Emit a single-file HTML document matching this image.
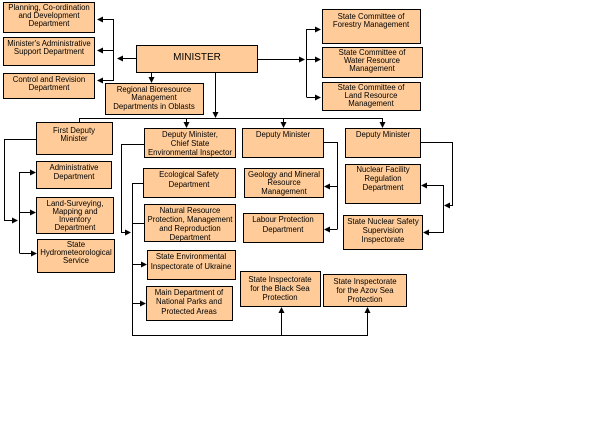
<!DOCTYPE html>
<html><head><style>body{margin:0;background:#fff}svg{display:block}text{font-family:"Liberation Sans",Arial,sans-serif;font-size:7.8px;fill:#000}</style></head><body>
<svg width="605" height="447" viewBox="0 0 605 447" xmlns="http://www.w3.org/2000/svg">
<defs><marker id="a" markerWidth="6" markerHeight="6" refX="5" refY="3" orient="auto" markerUnits="userSpaceOnUse"><path d="M0,0L6,3L0,6z" fill="#000"/></marker></defs>
<g fill="#FFCC99" stroke="#000" stroke-width="1">
<rect x="3.5" y="2.5" width="91" height="30"/>
<rect x="3.5" y="37.5" width="91" height="28"/>
<rect x="3.5" y="73.5" width="91" height="25"/>
<rect x="136.5" y="45.5" width="121" height="27"/>
<rect x="105.5" y="83.5" width="98" height="31"/>
<rect x="36.5" y="122.5" width="76" height="32"/>
<rect x="144.5" y="128.5" width="91" height="29"/>
<rect x="242.5" y="128.5" width="81" height="29"/>
<rect x="345.5" y="128.5" width="75" height="29"/>
<rect x="36.5" y="161.5" width="75" height="27"/>
<rect x="36.5" y="197.5" width="77" height="36"/>
<rect x="37.5" y="239.5" width="77" height="33"/>
<rect x="143.5" y="168.5" width="92" height="29"/>
<rect x="144.5" y="204.5" width="91" height="37"/>
<rect x="147.5" y="250.5" width="88" height="29"/>
<rect x="146.5" y="286.5" width="86" height="34"/>
<rect x="244.5" y="168.5" width="79" height="29"/>
<rect x="243.5" y="213.5" width="80" height="29"/>
<rect x="345.5" y="164.5" width="75" height="39"/>
<rect x="343.5" y="215.5" width="79" height="34"/>
<rect x="240.5" y="271.5" width="80" height="35"/>
<rect x="323.5" y="274.5" width="83" height="32"/>
<rect x="322.5" y="9.5" width="98" height="34"/>
<rect x="322.5" y="47.5" width="100" height="30"/>
<rect x="322.5" y="82.5" width="98" height="28"/>
</g>
<g stroke="#000" stroke-width="1" fill="none">
<path d="M136,58.5H118" marker-end="url(#a)"/>
<path d="M113.5,19V81"/>
<path d="M113.5,19.5H98" marker-end="url(#a)"/>
<path d="M113.5,50.5H98" marker-end="url(#a)"/>
<path d="M113.5,80.5H98" marker-end="url(#a)"/>
<path d="M257,59.5H304" marker-end="url(#a)"/>
<path d="M306.5,29V97"/>
<path d="M306.5,29.5H320" marker-end="url(#a)"/>
<path d="M306.5,59.5H320" marker-end="url(#a)"/>
<path d="M306.5,97.5H320" marker-end="url(#a)"/>
<path d="M151.5,72V82" marker-end="url(#a)"/>
<path d="M215.5,72V117" marker-end="url(#a)"/>
<path d="M79.5,122V118.5H382.5"/>
<path d="M186.5,118V127" marker-end="url(#a)"/>
<path d="M283.5,118V127" marker-end="url(#a)"/>
<path d="M382.5,118V127" marker-end="url(#a)"/>
<path d="M36,139.5H4.5V220.5H17" marker-end="url(#a)"/>
<path d="M19.5,172V253"/>
<path d="M19.5,172.5H35" marker-end="url(#a)"/>
<path d="M19.5,212.5H35" marker-end="url(#a)"/>
<path d="M19.5,253.5H36" marker-end="url(#a)"/>
<path d="M144,144.5H121.5V232.5H130" marker-end="url(#a)"/>
<path d="M132.5,183V335.5H367.5V308" marker-end="url(#a)"/>
<path d="M281.5,335V308" marker-end="url(#a)"/>
<path d="M132.5,183.5H143"/>
<path d="M132.5,223.5H144"/>
<path d="M132.5,264.5H146" marker-end="url(#a)"/>
<path d="M132.5,303.5H145" marker-end="url(#a)"/>
<path d="M323,142.5H337.5V229"/>
<path d="M337.5,186.5H325" marker-end="url(#a)"/>
<path d="M337.5,229.5H325" marker-end="url(#a)"/>
<path d="M420,142.5H452.5V205.5H445" marker-end="url(#a)"/>
<path d="M443.5,185V233"/>
<path d="M443.5,185.5H422" marker-end="url(#a)"/>
<path d="M443.5,232.5H424" marker-end="url(#a)"/>
</g>
<g text-anchor="middle">
<text x="49" y="10">Planning, Co-ordination</text><text x="49" y="18">and Development</text><text x="49" y="26">Department</text>
<text x="49" y="46">Minister's Administrative</text><text x="49" y="54">Support Department</text>
<text x="49" y="82">Control and Revision</text><text x="49" y="90">Department</text>
<text x="197" y="60" style="font-size:10px">MINISTER</text>
<text x="154" y="92">Regional Bioresource</text><text x="154" y="100">Management</text><text x="154" y="109">Departments in Oblasts</text>
<text x="74" y="133">First Deputy</text><text x="74" y="141">Minister</text>
<text x="190" y="137">Deputy Minister,</text><text x="190" y="146">Chief State</text><text x="190" y="155">Environmental Inspector</text>
<text x="283" y="137">Deputy Minister</text>
<text x="383" y="137">Deputy Minister</text>
<text x="74" y="170">Administrative</text><text x="74" y="179">Department</text>
<text x="75" y="206">Land-Surveying,</text><text x="75" y="214">Mapping and</text><text x="75" y="222">Inventory</text><text x="75" y="230">Department</text>
<text x="76" y="247">State</text><text x="76" y="255">Hydrometeorological</text><text x="76" y="263">Service</text>
<text x="189" y="177">Ecological Safety</text><text x="189" y="187">Department</text>
<text x="190" y="213">Natural Resource</text><text x="190" y="222">Protection, Management</text><text x="190" y="231">and Reproduction</text><text x="190" y="240">Department</text>
<text x="191" y="259">State Environmental</text><text x="191" y="269">Inspectorate of Ukraine</text>
<text x="189" y="295">Main Department of</text><text x="189" y="304">National Parks and</text><text x="189" y="314">Protected Areas</text>
<text x="284" y="177">Geology and Mineral</text><text x="284" y="185">Resource</text><text x="284" y="194">Management</text>
<text x="283" y="222">Labour Protection</text><text x="283" y="232">Department</text>
<text x="383" y="172">Nuclear Facility</text><text x="383" y="181">Regulation</text><text x="383" y="190">Department</text>
<text x="383" y="224">State Nuclear Safety</text><text x="383" y="233">Supervision</text><text x="383" y="242">Inspectorate</text>
<text x="280" y="282">State Inspectorate</text><text x="280" y="291">for the Black Sea</text><text x="280" y="300">Protection</text>
<text x="365" y="284">State Inspectorate</text><text x="365" y="293">for the Azov Sea</text><text x="365" y="302">Protection</text>
<text x="371" y="19">State Committee of</text><text x="371" y="27">Forestry Management</text>
<text x="372" y="55">State Committee of</text><text x="372" y="63">Water Resource</text><text x="372" y="71">Management</text>
<text x="371" y="90">State Committee of</text><text x="371" y="98">Land Resource</text><text x="371" y="106">Management</text>
</g>
</svg>
</body></html>
